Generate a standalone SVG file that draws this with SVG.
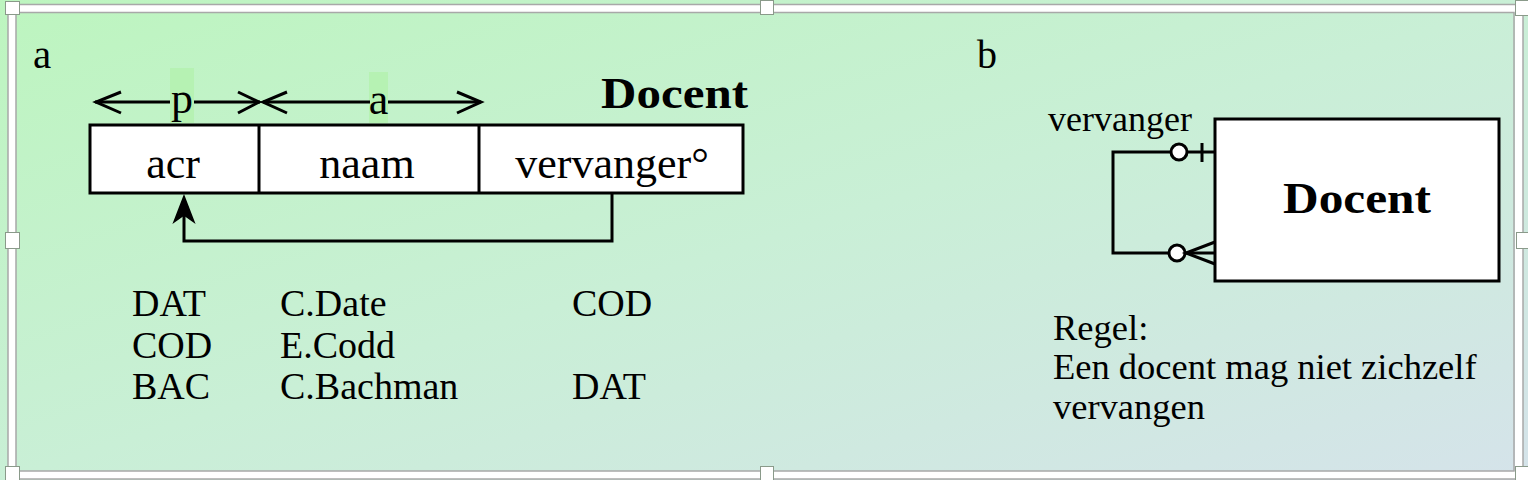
<svg xmlns="http://www.w3.org/2000/svg" width="1528" height="480" viewBox="0 0 1528 480">
<defs>
<linearGradient id="bg" x1="0" y1="0" x2="1" y2="1">
<stop offset="0" stop-color="#bdf5bf"/>
<stop offset="0.5" stop-color="#c9efd6"/>
<stop offset="1" stop-color="#d5e3ea"/>
</linearGradient>
<style>
text{font-family:"Liberation Serif","Times New Roman",serif;fill:#000}
.t44{font-size:44px}
.t38{font-size:38px}
.t36{font-size:36.5px}
.bold{font-weight:bold;font-size:45px}
.ln{fill:none;stroke:#000;stroke-width:3}
.box{fill:#fff;stroke:#000;stroke-width:3}
.hl{fill:#b6f2b3}
.handle{fill:#fff;stroke:#8a9a8a;stroke-width:1}
</style>
</defs>
<rect x="0" y="0" width="1528" height="480" fill="url(#bg)"/>
<!-- frame -->
<g id="frame">
<rect x="12" y="8.5" width="1507" height="466.5" fill="none" stroke="#fff" stroke-width="8"/>
<rect x="8" y="4.5" width="1515" height="474.5" fill="none" stroke="#a8a8a8" stroke-width="1.5"/>
<rect x="16" y="12.5" width="1498" height="458.5" fill="none" stroke="#a8a8a8" stroke-width="1.5"/>
<rect class="handle" x="5.5" y="1.5" width="14" height="13"/>
<rect class="handle" x="760.5" y="0.5" width="13" height="14"/>
<rect class="handle" x="1515.5" y="0.5" width="13" height="15"/>
<rect class="handle" x="5.5" y="232.5" width="14" height="16"/>
<rect class="handle" x="1516.5" y="232.5" width="12" height="16"/>
<rect class="handle" x="5.5" y="466.5" width="14" height="14"/>
<rect class="handle" x="760.5" y="466.5" width="13" height="14"/>
<rect class="handle" x="1515.5" y="466.5" width="13" height="14"/>
</g>
<!-- part a -->
<text style="font-size:41px" x="33" y="68">a</text>
<g id="docent-table">
<text class="bold" x="601" y="108" textLength="147" lengthAdjust="spacingAndGlyphs">Docent</text>
<rect class="box" x="90" y="125" width="653" height="68"/>
<line class="ln" x1="259" y1="125" x2="259" y2="193"/>
<line class="ln" x1="479" y1="125" x2="479" y2="193"/>
<text class="t44" x="173" y="178" text-anchor="middle">acr</text>
<text class="t44" x="367" y="178" text-anchor="middle">naam</text>
<text class="t44" x="612" y="178" text-anchor="middle">vervanger°</text>
</g>
<g id="key-markers">
<rect class="hl" x="170" y="68" width="24" height="55"/>
<rect class="hl" x="369" y="72" width="19" height="51"/>
<line class="ln" x1="95" y1="102" x2="170" y2="102"/>
<line class="ln" x1="194" y1="102" x2="260" y2="102"/>
<polyline class="ln" points="121,92 96,102 121,113"/>
<polyline class="ln" points="238,92 259,102 238,113"/>
<polyline class="ln" points="287,92 263,102 287,113"/>
<line class="ln" x1="263" y1="102" x2="370" y2="102"/>
<line class="ln" x1="388" y1="102" x2="481" y2="102"/>
<polyline class="ln" points="457,92 481,102 457,113"/>
<text class="t44" x="182" y="113" text-anchor="middle">p</text>
<text class="t44" x="378.5" y="114" text-anchor="middle">a</text>
</g>
<g id="connectors">
<polyline class="ln" points="612,193 612,241 184,241 184,212"/>
<path d="M184,196 L174,222 L184,215 L194,222 Z" fill="#000" stroke="#000" stroke-width="1.5" stroke-linejoin="miter"/>
<polyline class="ln" points="1215,152 1113,152 1113,253 1215,253"/>
<circle cx="1179" cy="152" r="8" fill="#fff" stroke="#000" stroke-width="3"/>
<line class="ln" x1="1202" y1="143" x2="1202" y2="162"/>
<circle cx="1177" cy="253" r="8" fill="#fff" stroke="#000" stroke-width="3"/>
<polyline class="ln" points="1215,242 1186,253 1215,264"/>
</g>
<g id="data">
<text class="t38" x="132" y="316">DAT</text>
<text class="t38" x="132" y="358">COD</text>
<text class="t38" x="132" y="399">BAC</text>
<text class="t38" x="280" y="316">C.Date</text>
<text class="t38" x="280" y="358">E.Codd</text>
<text class="t38" x="280" y="399">C.Bachman</text>
<text class="t38" x="572" y="316">COD</text>
<text class="t38" x="572" y="399">DAT</text>
</g>
<!-- part b -->
<text style="font-size:40px" x="977" y="68">b</text>
<g id="docent-entity">
<rect class="box" x="1215" y="119" width="284" height="162"/>
<text class="bold" x="1283" y="213" textLength="148" lengthAdjust="spacingAndGlyphs">Docent</text>
</g>
<text style="font-size:36px" x="1048" y="131">vervanger</text>
<g id="rule">
<text class="t36" x="1053" y="340">Regel:</text>
<text class="t36" x="1053" y="379">Een docent mag niet zichzelf</text>
<text class="t36" x="1053" y="419">vervangen</text>
</g>
</svg>
